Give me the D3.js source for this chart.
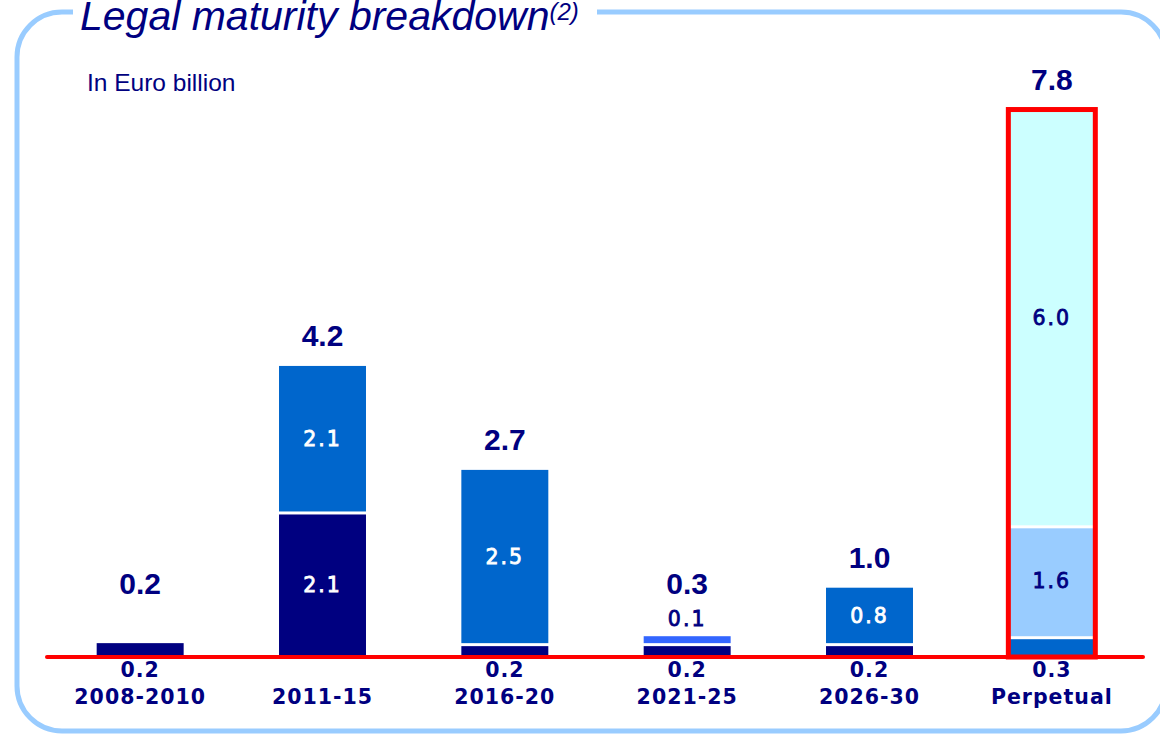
<!DOCTYPE html>
<html>
<head>
<meta charset="utf-8">
<script src="https://cdn.jsdelivr.net/npm/d3@7"></script>
<style>
  html, body { margin: 0; padding: 0; background: #ffffff; }
  svg { display: block; }
</style>
</head>
<body>
<svg id="chart" width="1160" height="736"></svg>
<script>
// Maturity buckets and the amounts (EUR bn) in each stacked tranche
const categories = ["2008-2010", "2011-15", "2016-20", "2021-25", "2026-30", "Perpetual"];
const navyValues      = [0.2, 2.1, 0.2, 0.2, 0.2, 0];
const blueValues      = [0,   2.1, 2.5, 0,   0.8, 0.3];
const brightValues    = [0,   0,   0,   0.1, 0,   0];
const lightBlueValues = [0,   0,   0,   0,   0,   1.6];
const cyanValues      = [0,   0,   0,   0,   0,   6.0];
const totalLabels     = ["0.2", "4.2", "2.7", "0.3", "1.0", "7.8"];
const highlighted     = ["Perpetual"];

const seriesKeys = ["navy", "blue", "bright", "lightBlue", "cyan"];
const seriesColor = {
  navy: "#000080", blue: "#0066cc", bright: "#3366ff",
  lightBlue: "#99ccff", cyan: "#ccffff"
};
const darkFill = new Set(["navy", "blue"]);

const rows = categories.map((c, i) => ({
  category: c,
  navy: navyValues[i], blue: blueValues[i], bright: brightValues[i],
  lightBlue: lightBlueValues[i], cyan: cyanValues[i]
}));

const svg = d3.select("#chart");
const NAVY = "#000080", RED = "#ff0000";
const baseY = 657;

// Frame
svg.append("rect")
  .attr("x", 17).attr("y", 12).attr("width", 1149).attr("height", 719)
  .attr("rx", 45).attr("ry", 45)
  .attr("fill", "none").attr("stroke", "#99ccff").attr("stroke-width", 5);

// Title sits on the frame's top edge
svg.append("rect").attr("x", 73).attr("y", 0).attr("width", 524).attr("height", 22).attr("fill", "#ffffff");
const title = svg.append("text")
  .attr("x", 80).attr("y", 30)
  .attr("font-family", "'Liberation Sans', Arial, sans-serif")
  .attr("font-style", "italic").attr("font-size", 41).attr("fill", NAVY);
title.append("tspan").text("Legal maturity breakdown");
title.append("tspan").attr("font-size", 24).attr("dy", -10).text("(2)");

svg.append("text")
  .attr("x", 87).attr("y", 91)
  .attr("font-family", "'Liberation Sans', Arial, sans-serif")
  .attr("font-size", 24.5).attr("fill", NAVY)
  .text("In Euro billion");

// Scales
const x = d3.scaleBand().domain(categories).range([49, 1143])
  .paddingInner(0.523).paddingOuter(0.2615);
const y = d3.scaleLinear().domain([0, 8]).range([baseY, baseY - 8 * 69.3]);

const layers = d3.stack().keys(seriesKeys)(rows);

const gap = 3;
const fmt = d3.format(".1f");

// Flatten stacked layers into drawable segments
const segs = [];
layers.forEach((layer, li) => {
  layer.forEach((d, ci) => {
    const v = d[1] - d[0];
    if (v <= 0) return;
    let hasAbove = false;
    for (let k = li + 1; k < layers.length; k++) {
      if (layers[k][ci][1] - layers[k][ci][0] > 0) hasAbove = true;
    }
    segs.push({ key: layer.key, category: categories[ci], y0: d[0], y1: d[1], v, hasAbove });
  });
});

svg.append("g").selectAll("rect").data(segs).join("rect")
  .attr("x", d => x(d.category))
  .attr("width", x.bandwidth())
  .attr("y", d => y(d.y1) + (d.hasAbove ? gap : 0))
  .attr("height", d => Math.max(1, y(d.y0) - y(d.y1) - (d.hasAbove ? gap : 0)))
  .attr("fill", d => seriesColor[d.key]);

// Segment value labels: inside tall segments, under the axis for thin bottom
// segments, and just above any other thin segment
const labelFont = "'DejaVu Sans', Verdana, sans-serif";
const isBottomThin = d => d.v < 0.5 && d.y0 === 0;
const segColor = d => (d.v >= 0.5 && darkFill.has(d.key)) ? "#ffffff" : NAVY;
svg.append("g").selectAll("text").data(segs).join("text")
  .attr("x", d => x(d.category) + x.bandwidth() / 2)
  .attr("y", d => {
    if (d.v >= 0.5) return (y(d.y0) + y(d.y1)) / 2 + 7.5;
    if (d.y0 === 0) return 677;
    return y(d.y1) - 10;
  })
  .attr("text-anchor", "middle")
  .attr("font-family", labelFont)
  .attr("font-weight", d => isBottomThin(d) ? "bold" : "normal")
  .attr("font-size", 20.5)
  .attr("letter-spacing", d => isBottomThin(d) ? 1 : 2)
  .attr("fill", segColor)
  .attr("stroke", d => isBottomThin(d) ? "none" : segColor(d))
  .attr("stroke-width", 0.8)
  .text(d => fmt(d.v));

// Totals above each bar
const totals = rows.map(r => d3.sum(seriesKeys, k => r[k]));
svg.append("g").selectAll("text").data(categories).join("text")
  .attr("x", c => x(c) + x.bandwidth() / 2)
  .attr("y", (c, i) => Math.min(y(totals[i]) - 20, 594))
  .attr("text-anchor", "middle")
  .attr("font-family", "'Liberation Sans', Arial, sans-serif")
  .attr("font-weight", "bold").attr("font-size", 30).attr("fill", NAVY)
  .text((c, i) => totalLabels[i]);

// Category axis
const xAxis = svg.append("g").attr("transform", `translate(0,${baseY})`)
  .call(d3.axisBottom(x).tickSize(0).tickPadding(0));
xAxis.select(".domain").remove();
xAxis.selectAll(".tick text")
  .attr("y", 47).attr("dy", null)
  .attr("font-family", labelFont).attr("font-weight", "bold")
  .attr("font-size", 20.5).attr("letter-spacing", 1).attr("fill", NAVY);

// Red baseline
svg.append("line")
  .attr("x1", 47).attr("x2", 1143).attr("y1", baseY).attr("y2", baseY)
  .attr("stroke", RED).attr("stroke-width", 4).attr("stroke-linecap", "round");

// Highlight box around selected buckets
svg.append("g").selectAll("rect").data(highlighted).join("rect")
  .attr("x", c => x(c))
  .attr("width", x.bandwidth())
  .attr("y", c => y(totals[categories.indexOf(c)]))
  .attr("height", c => baseY - y(totals[categories.indexOf(c)]))
  .attr("fill", "none").attr("stroke", RED).attr("stroke-width", 5);
</script>
</body>
</html>
